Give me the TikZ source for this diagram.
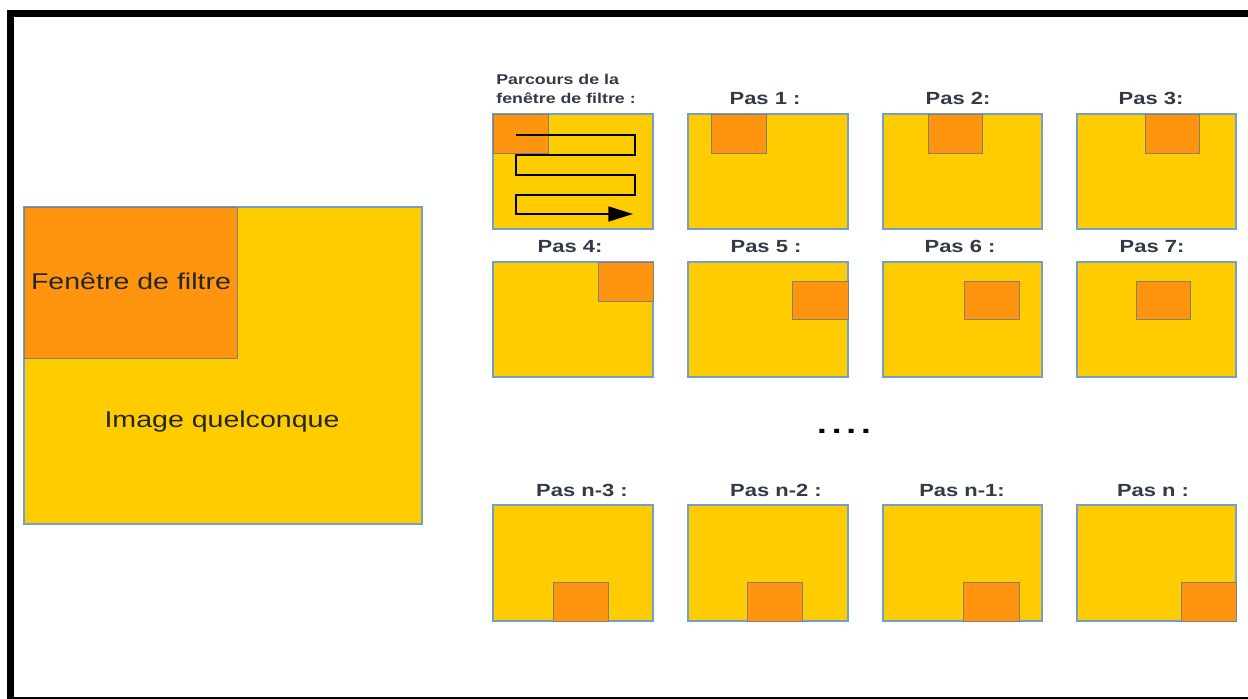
\documentclass[tikz,border=0pt]{standalone}
\usepackage{fontspec}
\setmainfont{Liberation Sans}[FakeStretch=1.25]
\usepackage{tikz}
\usetikzlibrary{arrows.meta}

\definecolor{imgyellow}{HTML}{FFCC00}
\definecolor{winorange}{HTML}{FF950E}
\definecolor{panelblue}{HTML}{729FCF}
\definecolor{labelgray}{RGB}{50,58,70}

\tikzset{
    panel/.style={fill=imgyellow, draw=panelblue, line width=0.8pt},
    window/.style={fill=winorange, draw=black!50, line width=0.5pt},
    paslabel/.style={anchor=base, inner sep=0pt, text=labelgray, font=\fontsize{10}{12}\selectfont\bfseries},
    bigtext/.style={anchor=base, inner sep=0pt, text=black!85, font=\fontsize{13}{15}\selectfont},
}

\begin{document}
\begin{tikzpicture}[x=0.02cm, y=-0.02cm]
    \useasboundingbox (0,0) rectangle (1248,699);
    \clip (0,0) rectangle (1248,699);
    \draw[line width=0.14cm] (10.5,13.5) rectangle (1262,700.5);

    % Image quelconque
    \draw[panel] (24,207) rectangle (422,524);
    \draw[window] (24,207) rectangle (237,358);
    \node[bigtext] (fenetre) at (131,290) {Fenêtre de filtre};
    \node[bigtext] (image) at (222,427) {Image quelconque};

    % Parcours
    \node[anchor=north west, inner sep=0pt, align=left, text=labelgray,
          font=\fontsize{8.1}{10.8}\selectfont\bfseries] (parcours) at (496,74) {Parcours de la\\fenêtre de filtre :};
    \draw[panel] (493,114) rectangle (653,229);
    \draw[window] (493,114) rectangle (548,153);
    \draw[line width=1pt, -{Triangle[length=14pt,width=8.5pt]}]
        (516,135) -- (635,135) -- (635,155) -- (516,155) -- (516,175)
        -- (635,175) -- (635,195) -- (516,195) -- (516,214) -- (633,214);

    % Ligne 1
    \draw[panel] (688,114) rectangle (848,229);
    \draw[window] (711,114) rectangle (766,153);
    \node[paslabel] (pas1) at (765,105) {Pas 1 :};
    \draw[panel] (883,114) rectangle (1042,229);
    \draw[window] (928,114) rectangle (982,153);
    \node[paslabel] (pas2) at (958,105) {Pas 2:};
    \draw[panel] (1077,114) rectangle (1236,229);
    \draw[window] (1145,114) rectangle (1199,153);
    \node[paslabel] (pas3) at (1151,105) {Pas 3:};

    % Ligne 2
    \draw[panel] (493,262) rectangle (653,377);
    \draw[window] (598,262) rectangle (653,301);
    \node[paslabel] (pas4) at (570,253) {Pas 4:};
    \draw[panel] (688,262) rectangle (848,377);
    \draw[window] (792,281) rectangle (848,319);
    \node[paslabel] (pas5) at (766,253) {Pas 5 :};
    \draw[panel] (883,262) rectangle (1042,377);
    \draw[window] (964,281) rectangle (1019,319);
    \node[paslabel] (pas6) at (960,253) {Pas 6 :};
    \draw[panel] (1077,262) rectangle (1236,377);
    \draw[window] (1136,281) rectangle (1190,319);
    \node[paslabel] (pas7) at (1152,253) {Pas 7:};

    \node[inner sep=0pt, font=\fontsize{16}{16}\selectfont\bfseries] (dots) at (844,431) {.\kern2.8pt.\kern2.8pt.\kern2.8pt.};

    % Ligne 3
    \draw[panel] (493,505) rectangle (653,621);
    \draw[window] (553,582) rectangle (608,621);
    \node[paslabel] (pasn3) at (582,496) {Pas n-3 :};
    \draw[panel] (688,505) rectangle (848,621);
    \draw[window] (747,582) rectangle (802,621);
    \node[paslabel] (pasn2) at (776,496) {Pas n-2 :};
    \draw[panel] (883,505) rectangle (1042,621);
    \draw[window] (963,582) rectangle (1019,621);
    \node[paslabel] (pasn1) at (962,496) {Pas n-1:};
    \draw[panel] (1077,505) rectangle (1236,621);
    \draw[window] (1181,582) rectangle (1236,621);
    \node[paslabel] (pasn) at (1153,496) {Pas n :};
\end{tikzpicture}
\end{document}
